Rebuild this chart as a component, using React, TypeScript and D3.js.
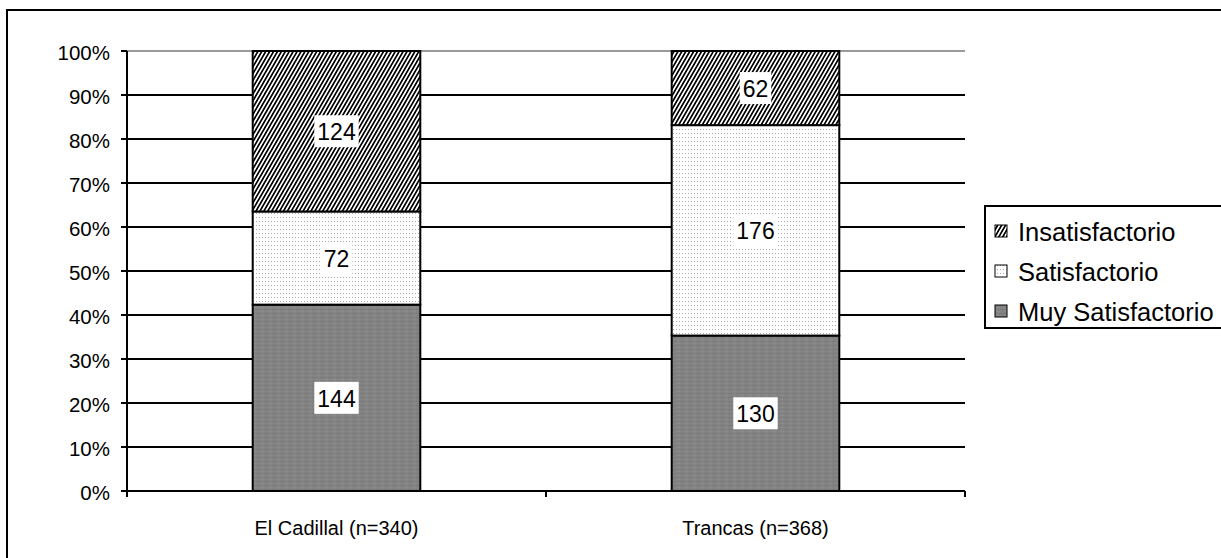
import React from "react";
import * as d3 from "d3";

// Survey results by site: counts per rating level
const categories = ["El Cadillal (n=340)", "Trancas (n=368)"];
const seriesNames = ["Muy Satisfactorio", "Satisfactorio", "Insatisfactorio"];
const muySatisfactorio = [144, 130];
const satisfactorio = [72, 176];
const insatisfactorio = [124, 62];
const yTicks = [0, 0.1, 0.2, 0.3, 0.4, 0.5, 0.6, 0.7, 0.8, 0.9, 1];

const W = 1221;
const H = 558;
const plot = { left: 127, right: 965, top: 51, bottom: 491 };
const FONT = "'Liberation Sans', Arial, sans-serif";

const fills: Record<string, string> = {
  "Muy Satisfactorio": "url(#patMuy)",
  Satisfactorio: "url(#patSat)",
  Insatisfactorio: "url(#patIns)",
};

export default function App() {
  const x = d3
    .scaleBand<string>()
    .domain(categories)
    .range([plot.left, plot.right])
    .paddingInner(0.6)
    .paddingOuter(0.3);
  const y = d3.scaleLinear().domain([0, 1]).range([plot.bottom, plot.top]);

  const rows = categories.map((c, i) => ({
    category: c,
    "Muy Satisfactorio": muySatisfactorio[i],
    Satisfactorio: satisfactorio[i],
    Insatisfactorio: insatisfactorio[i],
  }));
  const stack = d3
    .stack<any>()
    .keys(seriesNames)
    .offset(d3.stackOffsetExpand);
  const layers = stack(rows);

  const xDividers = [plot.left, (plot.left + plot.right) / 2, plot.right];

  const legendItems = [...seriesNames].reverse();

  return (
    <svg
      width={W}
      height={H}
      style={{ position: "absolute", left: 0, top: 0, background: "#fff" }}
      fontFamily={FONT}
    >
      <defs>
        <pattern
          id="patIns"
          patternUnits="userSpaceOnUse"
          width={3.4}
          height={4}
          patternTransform="rotate(30)"
        >
          <rect width={3.4} height={4} fill="#fff" />
          <rect width={1.7} height={4} fill="#000" />
        </pattern>
        <pattern id="patSat" patternUnits="userSpaceOnUse" width={3} height={4}>
          <rect width={3} height={4} fill="#fff" />
          <rect x={1} y={1} width={1} height={1} fill="#a8a8a8" />
        </pattern>
        <pattern id="patMuy" patternUnits="userSpaceOnUse" width={8} height={4}>
          <rect width={8} height={4} fill="#838383" />
          <rect y={1} width={5} height={1} fill="#7a7a7a" />
          <rect x={4} y={3} width={4} height={1} fill="#8b8b8b" />
        </pattern>
      </defs>

      {/* outer chart frame */}
      <rect x={7} y={10} width={1400} height={800} fill="none" stroke="#000" strokeWidth={2} />

      {/* gridlines */}
      {yTicks.map((t) => (
        <line
          key={"g" + t}
          x1={plot.left}
          x2={plot.right}
          y1={y(t)}
          y2={y(t)}
          stroke={t === 1 ? "#9a9a9a" : "#000"}
          strokeWidth={2}
        />
      ))}

      {/* stacked bars */}
      {layers.map((layer) =>
        layer.map((d, i) => {
          const bx = x(categories[i])!;
          return (
            <rect
              key={layer.key + i}
              x={bx}
              y={y(d[1])}
              width={x.bandwidth()}
              height={y(d[0]) - y(d[1])}
              fill={fills[layer.key]}
              stroke="#000"
              strokeWidth={2}
            />
          );
        })
      )}

      {/* value labels */}
      {layers.map((layer) =>
        layer.map((d, i) => {
          const value = (rows[i] as any)[layer.key] as number;
          const cx = x(categories[i])! + x.bandwidth() / 2;
          const cy = (y(d[0]) + y(d[1])) / 2;
          const label = String(value);
          const tw = label.length * 12.8;
          return (
            <g key={"l" + layer.key + i}>
              <rect x={cx - tw / 2 - 3} y={cy - 16} width={tw + 6} height={32} fill="#fff" />
              <text
                x={cx}
                y={cy + 1}
                textAnchor="middle"
                dominantBaseline="central"
                fontSize={23}
                fill="#000"
              >
                {label}
              </text>
            </g>
          );
        })
      )}

      {/* axes */}
      <line x1={plot.left} x2={plot.left} y1={plot.top} y2={plot.bottom} stroke="#000" strokeWidth={2} />
      <line x1={plot.left - 5} x2={plot.right} y1={plot.bottom} y2={plot.bottom} stroke="#000" strokeWidth={2} />
      {yTicks.map((t) => (
        <g key={"t" + t}>
          <line x1={plot.left - 6} x2={plot.left} y1={y(t)} y2={y(t)} stroke="#000" strokeWidth={2} />
          <text
            x={110}
            y={y(t) + 1}
            textAnchor="end"
            dominantBaseline="central"
            fontSize={20.5}
            fill="#000"
          >
            {d3.format(".0%")(t)}
          </text>
        </g>
      ))}
      {xDividers.map((xv, i) => (
        <line key={"xd" + i} x1={xv} x2={xv} y1={plot.bottom} y2={plot.bottom + 6} stroke="#000" strokeWidth={2} />
      ))}
      {categories.map((c) => (
        <text
          key={"xl" + c}
          x={x(c)! + x.bandwidth() / 2}
          y={528}
          textAnchor="middle"
          dominantBaseline="central"
          fontSize={20}
          fill="#000"
        >
          {c}
        </text>
      ))}

      {/* legend */}
      <rect x={985} y={206} width={300} height={122} fill="#fff" stroke="#000" strokeWidth={2} />
      {legendItems.map((name, i) => {
        const cy = 231 + i * 40;
        return (
          <g key={"lg" + name}>
            <rect x={995} y={cy - 6} width={12} height={12} fill={fills[name]} stroke="#000" strokeWidth={1} />
            <text x={1018} y={cy + 1} dominantBaseline="central" fontSize={25.5} fill="#000">
              {name}
            </text>
          </g>
        );
      })}
    </svg>
  );
}
